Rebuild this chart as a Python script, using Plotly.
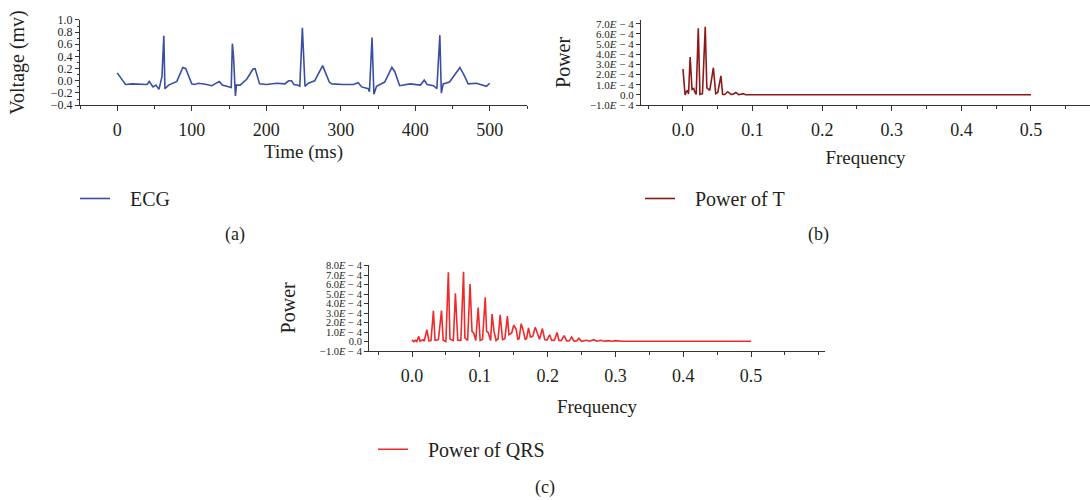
import plotly.graph_objects as go

# ---------------- data ----------------
# (a) ECG
time_ms = [0, 11, 20, 30, 40, 43, 48, 52, 56, 60, 62.5, 64, 69, 80, 88, 92, 100, 104, 109, 120,
           127, 131, 137, 141, 151, 153, 154.5, 156, 158.6, 160, 165, 174, 182, 185, 191, 200, 214, 225, 230, 234,
           237, 242, 245, 248.5, 252, 256.5, 265, 275.7, 284.6, 288, 303, 317, 323.5, 328, 337, 338.5, 342, 344.5, 348, 352.5,
           359, 368.6, 372.6, 379, 393, 407, 412, 416, 424.6, 429, 433, 435, 437.5, 446, 460, 466.5, 471, 482, 495.5, 500]
ecg_mv = [0.13, -0.06, -0.05, -0.06, -0.06, -0.01, -0.10, -0.07, -0.14, 0.07, 0.74, -0.13, -0.07, -0.01, 0.22, 0.20, -0.05, -0.06, -0.04, -0.06,
          -0.08, -0.05, -0.01, -0.07, -0.11, -0.11, 0.61, 0.42, -0.25, -0.07, -0.07, 0.03, 0.19, 0.20, -0.05, -0.06, -0.04, -0.05, 0.00, 0.00,
          -0.06, -0.07, -0.09, 0.87, -0.09, -0.04, 0.00, 0.25, -0.02, -0.05, -0.06, -0.06, -0.03, -0.10, -0.13, -0.18, 0.71, -0.22, -0.09, -0.06,
          -0.02, 0.22, 0.15, -0.08, -0.05, -0.07, 0.01, -0.06, -0.08, -0.13, 0.75, -0.20, -0.05, -0.02, 0.22, 0.07, -0.05, -0.04, -0.09, -0.04]

# (b) Power of T  (power in units of 1E-4)
freq_t = [0, 0.003, 0.0047, 0.0066, 0.008, 0.0103, 0.013, 0.0155, 0.017, 0.019,
          0.022, 0.0244, 0.028, 0.032, 0.0343, 0.0385, 0.0437, 0.047, 0.05, 0.0545,
          0.057, 0.06, 0.0643, 0.069, 0.072, 0.076, 0.08, 0.083, 0.0864, 0.09,
          0.1, 0.2, 0.3, 0.4, 0.5]
power_t_e4 = [2.55, 0, 0.3, 0.48, 0.1, 3.73, 0.54, 0.64, 0.3, 0.05,
              6.56, 0.06, 0.13, 6.69, 0.7, 0.45, 2.68, 0.13, 0.25, 1.88,
              0.06, 0.05, 0.32, 0.06, 0.08, 0.25, 0.03, 0.05, 0.13, 0.03,
              0.02, 0.02, 0.02, 0.02, 0.02]

# (c) Power of QRS (power in units of 1E-4)
freq_qrs = [0, 0.0024, 0.005, 0.007, 0.01, 0.012, 0.016, 0.018, 0.022, 0.025,
            0.028, 0.0316, 0.034, 0.039, 0.0435, 0.046, 0.05, 0.0536, 0.056, 0.061,
            0.064, 0.0675, 0.072, 0.076, 0.078, 0.082, 0.0856, 0.0885, 0.091, 0.094,
            0.0976, 0.1005, 0.104, 0.108, 0.110, 0.1124, 0.116, 0.118, 0.121, 0.124,
            0.127, 0.130, 0.1335, 0.137, 0.1407, 0.143, 0.147, 0.150, 0.1536, 0.156,
            0.158, 0.161, 0.164, 0.167, 0.169, 0.1718, 0.1746, 0.178, 0.1818, 0.1847,
            0.188, 0.1923, 0.1957, 0.199, 0.2029, 0.206, 0.21, 0.2139, 0.2167, 0.22,
            0.2244, 0.228, 0.232, 0.2354, 0.239, 0.243, 0.246, 0.25, 0.254, 0.257,
            0.262, 0.268, 0.273, 0.278, 0.284, 0.289, 0.295, 0.3, 0.31, 0.4, 0.5]
power_qrs_e4 = [0.2, 0, 0.14, 0.0, 0.55, 0.03, 0.2, 0.05, 1.24, 0.07,
                0.1, 3.23, 0.14, 0.2, 3.26, 0.14, 0.0, 7.29, 0.27, 0.1,
                5.09, 0.15, 0.12, 7.35, 0.38, 0.12, 6.05, 1.07, 0.9, 0.12,
                3.57, 0.12, 0.25, 4.67, 1.07, 0.96, 0.12, 2.89, 1.07, 0.12,
                0.3, 2.82, 0.2, 0.3, 2.68, 0.72, 0.9, 1.72, 1.3, 0.25,
                0.3, 1.89, 1.17, 0.2, 0.35, 1.44, 0.48, 0.55, 1.51, 0.9,
                0.25, 1.37, 0.2, 0.15, 0.72, 0.12, 0.15, 0.96, 0.12, 0.1,
                0.62, 0.07, 0.08, 0.48, 0.05, 0.06, 0.34, 0.03, 0.05, 0.14,
                0.04, 0.2, 0.04, 0.14, 0.03, 0.1, 0.03, 0.1, 0.03, 0.03, 0.03]

# tick labels
ecg_ticks = [1.0, 0.8, 0.6, 0.4, 0.2, 0.0, -0.2, -0.4]
ecg_ticktext = ["1.0", "0.8", "0.6", "0.4", "0.2", "0.0", "−0.2", "−0.4"]
time_ticks = [0, 100, 200, 300, 400, 500]
freq_ticks = [0.0, 0.1, 0.2, 0.3, 0.4, 0.5]
freq_ticktext = ["0.0", "0.1", "0.2", "0.3", "0.4", "0.5"]
pow_t_ticks_e4 = [7, 6, 5, 4, 3, 2, 1, 0, -1]
pow_qrs_ticks_e4 = [8, 7, 6, 5, 4, 3, 2, 1, 0, -1]


def pow_label(k):
    if k == 0:
        return "0.0"
    sign = "−" if k < 0 else ""
    return f"{sign}{abs(k)}.0<i>E</i> − 4"


# ---------------- figure ----------------
W, H = 1090, 500
FONT = "Liberation Serif, Times New Roman, serif"
AX_COL = "#333333"
TXT = "#231f20"
GAP = "\u00a0\u00a0\u00a0"


def px_x(a, b):
    return [a / W, min(b / W, 1.0)]


def px_y(top, bottom):
    return [(H - bottom) / H, (H - top) / H]


fig = go.Figure()
fig.add_trace(go.Scatter(x=time_ms, y=ecg_mv, mode="lines", name=GAP + "ECG",
                         line=dict(color="#3a4fa3", width=1.6), xaxis="x", yaxis="y",
                         legend="legend", showlegend=True))
fig.add_trace(go.Scatter(x=freq_t, y=[p * 1e-4 for p in power_t_e4], mode="lines", name=GAP + "Power of T",
                         line=dict(color="#8b1a1a", width=1.6), xaxis="x2", yaxis="y2",
                         legend="legend2", showlegend=True))
fig.add_trace(go.Scatter(x=freq_qrs, y=[p * 1e-4 for p in power_qrs_e4], mode="lines", name=GAP + "Power of QRS",
                         line=dict(color="#ee2a2a", width=1.6), xaxis="x3", yaxis="y3",
                         legend="legend3", showlegend=True))

common_axis = dict(showline=True, linecolor=AX_COL, linewidth=1, ticks="outside", tickcolor=AX_COL,
                   showgrid=False, zeroline=False, color=TXT)

fig.update_layout(
    width=W, height=H, margin=dict(l=0, r=0, t=0, b=0),
    paper_bgcolor="white", plot_bgcolor="white", showlegend=True,
    font=dict(family=FONT, color=TXT),
    xaxis=dict(**common_axis, domain=px_x(80, 527), range=[-50, 550], anchor="y",
               tickvals=time_ticks, ticklen=5, ticklabelstandoff=3,
               tickfont=dict(size=18),
               minor=dict(dtick=50, ticklen=3, ticks="outside", tickcolor=AX_COL),
               title=dict(text="Time (ms)", font=dict(size=19), standoff=5)),
    yaxis=dict(**common_axis, domain=px_y(13.3, 101), range=[-0.4, 1.0], anchor="x",
               tickvals=ecg_ticks, ticktext=ecg_ticktext, ticklen=4, tickfont=dict(size=12),
               minor=dict(dtick=0.1, ticklen=2, ticks="outside", tickcolor=AX_COL),
               title=dict(text="Voltage (mv)", font=dict(size=20), standoff=20)),
    xaxis2=dict(**common_axis, domain=px_x(641, 1090), range=[-0.0603, 0.5848], anchor="y2",
                tickvals=freq_ticks, ticktext=freq_ticktext, ticklen=5, ticklabelstandoff=3,
                tickfont=dict(size=18),
                minor=dict(dtick=0.05, ticklen=3, ticks="outside", tickcolor=AX_COL),
                title=dict(text="Frequency", font=dict(size=19), standoff=11)),
    yaxis2=dict(**common_axis, domain=px_y(13, 101), range=[-1e-4, 7.4e-4], anchor="x2",
                tickvals=[k * 1e-4 for k in pow_t_ticks_e4],
                ticktext=[pow_label(k) for k in pow_t_ticks_e4], ticklen=4, tickfont=dict(size=11),
                title=dict(text="Power", font=dict(size=20), standoff=13)),
    xaxis3=dict(**common_axis, domain=px_x(369, 825), range=[-0.0634, 0.609], anchor="y3",
                tickvals=freq_ticks, ticktext=freq_ticktext, ticklen=5, ticklabelstandoff=3,
                tickfont=dict(size=18),
                minor=dict(dtick=0.05, ticklen=3, ticks="outside", tickcolor=AX_COL),
                title=dict(text="Frequency", font=dict(size=19), standoff=15)),
    yaxis3=dict(**common_axis, domain=px_y(265, 354), range=[-1e-4, 8.1e-4], anchor="x3",
                tickvals=[k * 1e-4 for k in pow_qrs_ticks_e4],
                ticktext=[pow_label(k) for k in pow_qrs_ticks_e4], ticklen=4, tickfont=dict(size=10.5),
                title=dict(text="Power", font=dict(size=20), standoff=19)),
    legend=dict(x=75 / W, y=(H - 197) / H, xanchor="left", yanchor="middle",
                font=dict(size=20), bgcolor="rgba(0,0,0,0)"),
    legend2=dict(x=640 / W, y=(H - 197) / H, xanchor="left", yanchor="middle",
                 font=dict(size=20), bgcolor="rgba(0,0,0,0)"),
    legend3=dict(x=373 / W, y=(H - 455) / H, xanchor="left", yanchor="middle",
                 font=dict(size=20), bgcolor="rgba(0,0,0,0)"),
    annotations=[
        dict(text="(a)", x=235 / W, y=(H - 234) / H, xref="paper", yref="paper",
             xanchor="center", yanchor="middle", showarrow=False, font=dict(size=18)),
        dict(text="(b)", x=818 / W, y=(H - 234) / H, xref="paper", yref="paper",
             xanchor="center", yanchor="middle", showarrow=False, font=dict(size=18)),
        dict(text="(c)", x=545 / W, y=(H - 494) / H, xref="paper", yref="paper",
             xanchor="center", yanchor="middle", showarrow=False, font=dict(size=18)),
    ],
)

fig.write_html("out.html", config={"displayModeBar": False},
               post_script="document.body.style.margin='0';")
